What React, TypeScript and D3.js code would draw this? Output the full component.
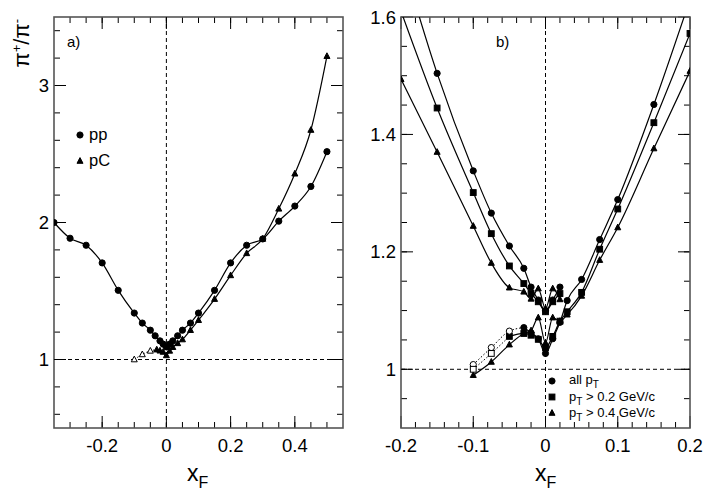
import React, { useRef, useEffect } from 'react';
import * as d3 from 'd3';

// ---- panel a) : pi+/pi- vs xF, pp and pC ----
const ppX = [-0.35, -0.3, -0.25, -0.2, -0.15, -0.1, -0.075, -0.05, -0.035, -0.02, -0.01, 0, 0.01, 0.02, 0.035, 0.05, 0.075, 0.1, 0.15, 0.2, 0.25, 0.3, 0.35, 0.4, 0.45, 0.5];
const ppY = [2.0, 1.885, 1.834, 1.705, 1.505, 1.339, 1.266, 1.214, 1.173, 1.136, 1.112, 1.092, 1.112, 1.136, 1.173, 1.214, 1.266, 1.339, 1.505, 1.705, 1.834, 1.88, 2.01, 2.12, 2.263, 2.517];
const pcX = [-0.03, -0.02, -0.01, 0, 0.01, 0.02, 0.035, 0.05, 0.075, 0.1, 0.15, 0.2, 0.25, 0.3, 0.35, 0.4, 0.45, 0.5];
const pcY = [1.072, 1.064, 1.055, 1.03, 1.063, 1.09, 1.118, 1.146, 1.214, 1.287, 1.441, 1.614, 1.775, 1.88, 2.1, 2.356, 2.675, 3.214];
const pcOpenX = [-0.1, -0.075, -0.05];
const pcOpenY = [1.0, 1.037, 1.063];

// ---- panel b) : pC, pT cuts ----
const upX = [-0.2, -0.15, -0.1, -0.075, -0.05, -0.03, -0.02, -0.01, 0, 0.01, 0.02];
const allUpY = [1.705, 1.504, 1.338, 1.266, 1.21, 1.172, 1.14, 1.118, 1.1, 1.118, 1.14];
const pt2UpY = [1.61, 1.445, 1.301, 1.231, 1.176, 1.146, 1.129, 1.115, 1.098, 1.115, 1.129];
const pt4UpY = [1.494, 1.37, 1.244, 1.181, 1.139, 1.132, 1.12, 1.1375, 1.103, 1.1375, 1.119];

const allLowX = [-0.03, -0.02, -0.01, 0, 0.01, 0.02, 0.03, 0.05, 0.075, 0.1, 0.15, 0.2];
const allLowY = [1.071, 1.062, 1.052, 1.027, 1.052, 1.08, 1.117, 1.153, 1.221, 1.289, 1.451, 1.63];
const allOpenX = [-0.1, -0.075, -0.05];
const allOpenY = [1.008, 1.037, 1.065];

const pt2LowX = [-0.05, -0.03, -0.02, -0.01, 0, 0.01, 0.02, 0.03, 0.05, 0.075, 0.1, 0.15, 0.2];
const pt2LowY = [1.056, 1.061, 1.058, 1.051, 1.037, 1.056, 1.082, 1.098, 1.131, 1.2045, 1.273, 1.42, 1.572];
const pt2OpenX = [-0.1, -0.075];
const pt2OpenY = [1.0, 1.027];

const pt4LowX = [-0.1, -0.075, -0.05, -0.03, -0.02, -0.01, 0, 0.01, 0.02, 0.03, 0.05, 0.075, 0.1, 0.15, 0.2];
const pt4LowY = [0.99, 1.0125, 1.042, 1.061, 1.066, 1.088, 1.045, 1.088, 1.082, 1.093, 1.125, 1.186, 1.2415, 1.376, 1.508];

// tick labels
const aXTicks = [-0.2, 0, 0.2, 0.4];
const aXLabels = ['-0.2', '0', '0.2', '0.4'];
const aYTicks = [1, 2, 3];
const aYLabels = ['1', '2', '3'];
const bXTicks = [-0.2, -0.1, 0, 0.1, 0.2];
const bXLabels = ['-0.2', '-0.1', '0', '0.1', '0.2'];
const bYTicks = [1, 1.2, 1.4, 1.6];
const bYLabels = ['1', '1.2', '1.4', '1.6'];

const FONT = '"Liberation Sans", Arial, Helvetica, sans-serif';

type Sel = d3.Selection<SVGGElement, unknown, null, undefined>;
type Scale = d3.ScaleLinear<number, number>;

function marker(g: Sel, kind: string, cx: number, cy: number, filled = true) {
  const fill = filled ? '#000' : '#fff';
  if (kind === 'circle') {
    g.append('circle').attr('cx', cx).attr('cy', cy).attr('r', 3.1)
      .attr('fill', fill).attr('stroke', '#000').attr('stroke-width', 1);
  } else if (kind === 'square') {
    g.append('rect').attr('x', cx - 2.9).attr('y', cy - 2.9).attr('width', 5.8).attr('height', 5.8)
      .attr('fill', fill).attr('stroke', '#000').attr('stroke-width', 1);
  } else if (kind === 'triangle') {
    g.append('path')
      .attr('d', `M${cx},${cy - 3.4}L${cx - 3},${cy + 2.3}L${cx + 3},${cy + 2.3}Z`)
      .attr('fill', fill).attr('stroke', '#000').attr('stroke-width', 1);
  }
}

function series(g: Sel, x: Scale, y: Scale, xs: number[], ys: number[], kind: string, filled: boolean, dotted = false) {
  const pts = xs.map((v, i) => [v, ys[i]] as [number, number]);
  const line = d3.line<[number, number]>()
    .x((d) => x(d[0]))
    .y((d) => y(d[1]))
    .curve(d3.curveMonotoneX);
  g.append('path')
    .datum(pts)
    .attr('fill', 'none')
    .attr('stroke', '#000')
    .attr('stroke-width', dotted ? 1 : 1.2)
    .attr('stroke-dasharray', dotted ? '1.5,2' : null)
    .attr('d', line);
  pts.forEach((d) => marker(g, kind, x(d[0]), y(d[1]), filled));
}

function frame(
  svg: d3.Selection<SVGSVGElement, unknown, null, undefined>,
  id: string,
  x: Scale,
  y: Scale,
  xMinor: number[],
  xMajor: number[],
  xLabels: string[],
  yMinor: number[],
  yMajor: number[],
  yLabels: string[]
) {
  const [x0, x1] = x.range();
  const [y1, y0] = y.range();
  const g = svg.append('g');
  const tick = (xa: number, ya: number, xb: number, yb: number) =>
    g.append('line').attr('x1', xa).attr('y1', ya).attr('x2', xb).attr('y2', yb)
      .attr('stroke', '#000').attr('stroke-width', 1);

  xMinor.forEach((v) => { tick(x(v), y1, x(v), y1 - 6); tick(x(v), y0, x(v), y0 + 6); });
  xMajor.forEach((v) => { tick(x(v), y1, x(v), y1 - 12); tick(x(v), y0, x(v), y0 + 12); });
  yMinor.forEach((v) => { tick(x0, y(v), x0 + 6, y(v)); tick(x1, y(v), x1 - 6, y(v)); });
  yMajor.forEach((v) => { tick(x0, y(v), x0 + 12, y(v)); tick(x1, y(v), x1 - 12, y(v)); });

  g.append('rect').attr('x', x0).attr('y', y0).attr('width', x1 - x0).attr('height', y1 - y0)
    .attr('fill', 'none').attr('stroke', '#555').attr('stroke-width', 1.6);

  xMajor.forEach((v, i) => {
    g.append('text').attr('x', x(v)).attr('y', 452).attr('text-anchor', 'middle')
      .attr('font-family', FONT).attr('font-size', 18.5).text(xLabels[i]);
  });
  yMajor.forEach((v, i) => {
    g.append('text').attr('x', x0 - 5).attr('y', y(v) + 6.5).attr('text-anchor', 'end')
      .attr('font-family', FONT).attr('font-size', 18.5).text(yLabels[i]);
  });

  // dashed reference lines at xF = 0 and ratio = 1
  g.append('line').attr('x1', x(0)).attr('x2', x(0)).attr('y1', y0).attr('y2', y1)
    .attr('stroke', '#000').attr('stroke-width', 1).attr('stroke-dasharray', '4,3');
  g.append('line').attr('x1', x0).attr('x2', x1).attr('y1', y(1)).attr('y2', y(1))
    .attr('stroke', '#000').attr('stroke-width', 1).attr('stroke-dasharray', '4,3');

  svg.append('clipPath').attr('id', id)
    .append('rect').attr('x', x0).attr('y', y0).attr('width', x1 - x0).attr('height', y1 - y0);
  return svg.append('g').attr('clip-path', `url(#${id})`) as unknown as Sel;
}

function xTitle(svg: d3.Selection<SVGSVGElement, unknown, null, undefined>, xPos: number) {
  const t = svg.append('text').attr('x', xPos).attr('y', 481)
    .attr('font-family', FONT).attr('font-size', 23);
  t.append('tspan').text('x');
  t.append('tspan').attr('dy', 7).attr('font-size', 16).text('F');
}

const App: React.FC = () => {
  const svgRef = useRef<SVGSVGElement | null>(null);

  useEffect(() => {
    if (!svgRef.current) return;
    const svg = d3.select(svgRef.current);
    svg.selectAll('*').remove();

    // ---------- panel a) ----------
    const xa = d3.scaleLinear().domain([-0.35, 0.55]).range([54, 343]);
    const ya = d3.scaleLinear().domain([0.5, 3.5]).range([428, 17]);
    const ga = frame(
      svg, 'clipA', xa, ya,
      d3.range(-0.3, 0.53, 0.05), aXTicks, aXLabels,
      d3.range(0.6, 3.45, 0.2), aYTicks, aYLabels
    );
    series(ga, xa, ya, ppX, ppY, 'circle', true);
    // open points joined by a dotted line
    series(ga, xa, ya, [...pcOpenX, pcX[0]], [...pcOpenY, pcY[0]], 'none', false, true);
    series(ga, xa, ya, pcX, pcY, 'triangle', true);
    pcOpenX.forEach((v, i) => marker(ga, 'triangle', xa(v), ya(pcOpenY[i]), false));

    svg.append('text').attr('x', 67).attr('y', 47).attr('font-family', FONT).attr('font-size', 15).text('a)');
    marker(ga, 'circle', 80, 135, true);
    svg.append('text').attr('x', 89).attr('y', 140).attr('font-family', FONT).attr('font-size', 16.5).text('pp');
    marker(ga, 'triangle', 80, 161, true);
    svg.append('text').attr('x', 89).attr('y', 166).attr('font-family', FONT).attr('font-size', 16.5).text('pC');

    // ---------- panel b) ----------
    const xb = d3.scaleLinear().domain([-0.2, 0.2]).range([401, 690]);
    const yb = d3.scaleLinear().domain([0.9, 1.6]).range([428, 17]);
    const gb = frame(
      svg, 'clipB', xb, yb,
      d3.range(-0.18, 0.19, 0.02), bXTicks, bXLabels,
      d3.range(0.95, 1.58, 0.05), bYTicks, bYLabels
    );
    series(gb, xb, yb, upX, allUpY, 'circle', true);
    series(gb, xb, yb, upX, pt2UpY, 'square', true);
    series(gb, xb, yb, upX, pt4UpY, 'triangle', true);

    series(gb, xb, yb, [...allOpenX, allLowX[0]], [...allOpenY, allLowY[0]], 'none', false, true);
    series(gb, xb, yb, [...pt2OpenX, pt2LowX[0]], [...pt2OpenY, pt2LowY[0]], 'none', false, true);
    series(gb, xb, yb, allLowX, allLowY, 'circle', true);
    series(gb, xb, yb, pt2LowX, pt2LowY, 'square', true);
    series(gb, xb, yb, pt4LowX, pt4LowY, 'triangle', true);
    allOpenX.forEach((v, i) => marker(gb, 'circle', xb(v), yb(allOpenY[i]), false));
    pt2OpenX.forEach((v, i) => marker(gb, 'square', xb(v), yb(pt2OpenY[i]), false));

    svg.append('text').attr('x', 496).attr('y', 47).attr('font-family', FONT).attr('font-size', 15).text('b)');

    // legend b)
    const lx = 552;
    marker(gb, 'circle', lx, 381, true);
    marker(gb, 'square', lx, 397, true);
    marker(gb, 'triangle', lx, 413, true);
    const l1 = svg.append('text').attr('x', 569).attr('y', 384).attr('font-family', FONT).attr('font-size', 13);
    l1.append('tspan').text('all p');
    l1.append('tspan').attr('dy', 4).attr('font-size', 10).text('T');
    const l2 = svg.append('text').attr('x', 569).attr('y', 401).attr('font-family', FONT).attr('font-size', 13);
    l2.append('tspan').text('p');
    l2.append('tspan').attr('dy', 4).attr('font-size', 10).text('T');
    l2.append('tspan').attr('dy', -4).text(' > 0.2 GeV/c');
    const l3 = svg.append('text').attr('x', 569).attr('y', 417).attr('font-family', FONT).attr('font-size', 13);
    l3.append('tspan').text('p');
    l3.append('tspan').attr('dy', 4).attr('font-size', 10).text('T');
    l3.append('tspan').attr('dy', -4).text(' > 0.4 GeV/c');

    // axis titles
    xTitle(svg, 187);
    xTitle(svg, 535);
    const yt = svg.append('text')
      .attr('transform', 'translate(29,19) rotate(-90)')
      .attr('text-anchor', 'end')
      .attr('font-family', FONT)
      .attr('font-size', 22);
    yt.append('tspan').text('π');
    yt.append('tspan').attr('dy', -8).attr('font-size', 13).text('+');
    yt.append('tspan').attr('dy', 8).text('/π');
    yt.append('tspan').attr('dy', -8).attr('font-size', 13).text('-');
  }, []);

  return (
    <svg
      ref={svgRef}
      width={708}
      height={492}
      style={{ position: 'absolute', left: 0, top: 0, background: '#fff' }}
    />
  );
};

export default App;
